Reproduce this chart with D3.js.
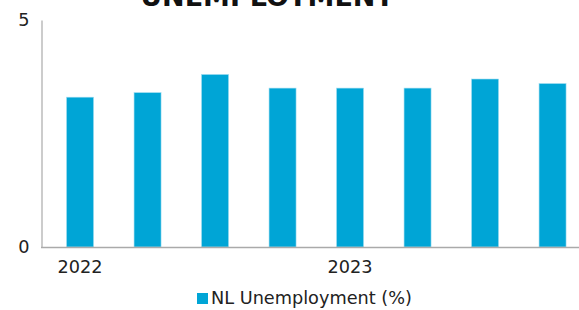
<!DOCTYPE html>
<html>
<head>
<meta charset="utf-8">
<script src="https://cdn.jsdelivr.net/npm/d3@7"></script>
<style>
  html, body { margin: 0; padding: 0; background: #fff; }
  svg { display: block; }
  text { font-family: "DejaVu Sans", Verdana, sans-serif; }
</style>
</head>
<body>
<svg id="chart" width="579" height="310"></svg>
<script>
const categories = ["2022 Q1", "2022 Q2", "2022 Q3", "2022 Q4", "2023 Q1", "2023 Q2", "2023 Q3", "2023 Q4"];
const values = [3.3, 3.4, 3.8, 3.5, 3.5, 3.5, 3.7, 3.6];
const yTicks = [0, 5];
const xTickLabels = [{ cat: "2022 Q1", label: "2022" }, { cat: "2023 Q1", label: "2023" }];
const seriesName = "NL Unemployment (%)";
const title = "UNEMPLOYMENT";

const svg = d3.select("#chart");
const barColor = "#00A5D6";
const fs = 17.7;

const x = d3.scaleBand().domain(categories).range([46.3, 586.3]).paddingInner(0.6).paddingOuter(0.3);
const y = d3.scaleLinear().domain([0, 5]).range([247, 20]);

// title (clipped at top, as in the reference)
svg.append("text")
  .attr("x", 267).attr("y", 6)
  .attr("text-anchor", "middle")
  .attr("font-size", 27).attr("font-weight", "bold")
  .attr("fill", "#111")
  .text(title);

// bars
svg.append("g").selectAll("rect").data(categories).join("rect")
  .attr("x", d => x(d))
  .attr("y", (d, i) => y(values[i]))
  .attr("width", x.bandwidth())
  .attr("height", (d, i) => y(0) - y(values[i]))
  .attr("fill", barColor)
  .attr("stroke", "#9fdcf0").attr("stroke-width", 0.6);

// y axis
const yAxis = d3.axisLeft(y).tickValues(yTicks).tickSize(0).tickPadding(12).tickFormat(d3.format("d"));
const gy = svg.append("g").attr("transform", "translate(41.5,0)").call(yAxis);
gy.select(".domain").attr("stroke", "#aaa").attr("stroke-width", 1.2);
gy.selectAll("text").attr("font-size", fs).attr("fill", "#222")
  .attr("font-family", "DejaVu Sans, Verdana, sans-serif");

// x axis baseline
const gx = svg.append("g").attr("transform", "translate(0,247.5)");
gx.append("line").attr("x1", 41).attr("x2", 579).attr("stroke", "#aaa").attr("stroke-width", 1.4);
const labelMap = new Map(xTickLabels.map(d => [d.cat, d.label]));
const xAxis = d3.axisBottom(x).tickValues(xTickLabels.map(d => d.cat))
  .tickFormat(d => labelMap.get(d)).tickSize(0).tickPadding(13);
const gxa = svg.append("g").attr("transform", "translate(0,247.5)").call(xAxis);
gxa.select(".domain").remove();
gxa.selectAll("text").attr("font-size", fs).attr("fill", "#222")
  .attr("font-family", "DejaVu Sans, Verdana, sans-serif");

// legend
const lg = svg.append("g");
lg.append("rect").attr("x", 197).attr("y", 293).attr("width", 11).attr("height", 11).attr("fill", barColor);
lg.append("text").attr("x", 211).attr("y", 304).attr("font-size", fs).attr("fill", "#222").text(seriesName);
</script>
</body>
</html>
